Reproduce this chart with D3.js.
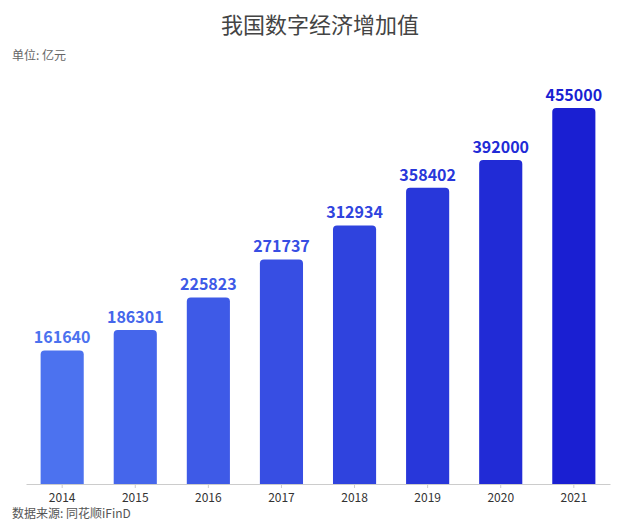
<!DOCTYPE html><html><head><meta charset="utf-8"><script src="https://cdn.jsdelivr.net/npm/d3@7"></script>
<style>body{margin:0;background:#fff}text{font-family:"Noto Sans CJK SC","Noto Sans",sans-serif}</style></head><body>
<svg id="c" width="640" height="529"></svg>
<script>
const years=["2014","2015","2016","2017","2018","2019","2020","2021"];
const values=[161640,186301,225823,271737,312934,358402,392000,455000];
const svg=d3.select("#c");
const x=d3.scaleBand().domain(years).range([26,610]).paddingInner(0.41).paddingOuter(0.2);
const y=d3.scaleLinear().domain([0,455000]).range([484,108]);
const col=d3.scaleLinear().domain([0,years.length-1]).range(["#4c72ef","#1a1fd2"]);
svg.append("text").attr("x",320).attr("y",33).attr("text-anchor","middle").attr("font-size",22).attr("fill","#444").text("我国数字经济增加值");
svg.append("text").attr("x",12).attr("y",60).attr("font-size",12).attr("fill","#666").text("单位: 亿元");
const r=4;
svg.selectAll("path.bar").data(values).join("path").attr("class","bar")
 .attr("fill",(d,i)=>col(i))
 .attr("d",(d,i)=>{const x0=x(years[i]),w=x.bandwidth(),t=y(d),b=y(0);
  return `M${x0},${b}V${t+r}Q${x0},${t} ${x0+r},${t}H${x0+w-r}Q${x0+w},${t} ${x0+w},${t+r}V${b}Z`;});
svg.selectAll("text.lab").data(values).join("text").attr("class","lab")
 .attr("x",(d,i)=>x(years[i])+x.bandwidth()/2).attr("y",d=>y(d)-7)
 .attr("text-anchor","middle").attr("font-size",16).attr("font-weight","bold")
 .attr("fill",(d,i)=>col(i)).text(d=>d);
const ax=svg.append("g").attr("transform","translate(0,484)").call(d3.axisBottom(x).tickSize(4).tickSizeOuter(0));
ax.select(".domain").attr("stroke","#ccc");
ax.selectAll(".tick line").attr("stroke","#ccc");
ax.selectAll("text").attr("font-size",12).attr("fill","#333").attr("dy","0.9em");
svg.append("text").attr("x",12).attr("y",518).attr("font-size",12).attr("fill","#555").text("数据来源: 同花顺iFinD");
</script></body></html>
